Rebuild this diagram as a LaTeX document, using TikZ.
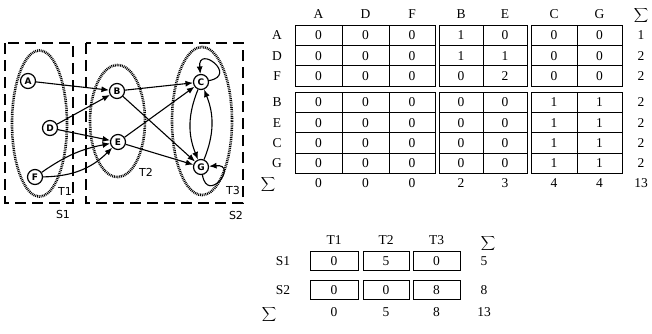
\documentclass[tikz,border=0pt]{standalone}
\usepackage{fontspec}
\setmainfont{Liberation Serif}
\newfontfamily\labfont{DejaVu Sans}
\usetikzlibrary{arrows.meta}
\begin{document}
\begin{tikzpicture}[x=1pt,y=-1pt,
  vtx/.style={circle,draw,line width=1.2pt,minimum size=15pt,inner sep=0pt,fill=white,font=\labfont\bfseries\fontsize{9}{9}\selectfont},
  arr/.style={-{Latex[length=7.5pt,width=6pt]},line width=1.1pt},
  sbox/.style={dash pattern=on 11pt off 6pt,line width=1.4pt},
  tset/.style={dash pattern=on 0.9pt off 0.9pt,line width=2.6pt},
  lab/.style={font=\labfont\fontsize{11}{11}\selectfont,inner sep=0pt},
  cell/.style={draw,line width=0.8pt},
  tx/.style={font=\fontsize{13.5}{14}\selectfont,inner sep=0pt},
  sig/.style={font=\fontsize{11.5}{11.5}\selectfont,inner sep=0pt},
]
\useasboundingbox (0,0) rectangle (652,333);
% ---------------- left graph ----------------
\draw[sbox] (5,43) rectangle (73,203);
\draw[sbox] (86,43) rectangle (243,203);
\draw[tset] (39.5,123.5) ellipse [x radius=27.5, y radius=73];
\draw[tset] (117.5,121) ellipse [x radius=27.5, y radius=56];
\draw[tset] (202,121) ellipse [x radius=30, y radius=74];
\node[vtx] (A) at (28,81) {A};
\node[vtx] (D) at (50,128) {D};
\node[vtx] (F) at (35,177) {F};
\node[vtx] (B) at (117,91) {B};
\node[vtx] (E) at (118,142) {E};
\node[vtx] (C) at (201,82) {C};
\node[vtx] (G) at (201,167) {G};
\node[lab] (T1) at (65,191) {T1};
\node[lab] (T2) at (146,172) {T2};
\node[lab] (T3) at (233,190) {T3};
\node[lab] (S1) at (63,214) {S1};
\node[lab] (S2) at (236,215) {S2};
\draw[arr] (A) -- (B);
\draw[arr] (D) -- (B);
\draw[arr] (D) -- (E);
\draw[arr] (F) to[bend left=12] (E);
\draw[arr] (F) to[bend right=22] (E);
\draw[arr] (B) -- (C);
\draw[arr] (B) -- (G);
\draw[arr] (E) -- (C);
\draw[arr] (E) -- (G);
\draw[arr] (C) to[bend right=22] (G);
\draw[arr] (G) to[bend right=22] (C);
\draw[arr] (C) to[out=10,in=95,looseness=7] (C);
\draw[arr] (G) to[out=-80,in=5,looseness=7] (G);
% ---------------- main table ----------------
\def\xl{{295,342,389,439,483,531,577}}
\def\xr{{342,389,435,483,527,577,622}}
\def\xc{{318.5,365.5,412,461,505,554,599.5}}
\foreach \h [count=\i] in {A,D,F,B,E,C,G}{
  \pgfmathsetmacro\cx{\xc[\i-1]}
  \node[tx] (h-\h) at (\cx,14) {\h};
}
\node[sig] (h-sum) at (641,15) {$\displaystyle\sum$};
\foreach \r/\yt/\vals/\s in {A/25/{0,0,0,1,0,0,0}/1, D/45.4/{0,0,0,1,1,0,0}/2, F/65.8/{0,0,0,0,2,0,0}/2,
                            B/92/{0,0,0,0,0,1,1}/2, E/112.4/{0,0,0,0,0,1,1}/2, C/132.8/{0,0,0,0,0,1,1}/2, G/153.2/{0,0,0,0,0,1,1}/2}{
  \pgfmathsetmacro\yb{\yt+20.4}
  \pgfmathsetmacro\ym{\yt+10.2}
  \node[tx] (r-\r) at (277,\ym) {\r};
  \foreach \v [count=\i] in \vals {
    \pgfmathsetmacro\xa{\xl[\i-1]}
    \pgfmathsetmacro\xb{\xr[\i-1]}
    \pgfmathsetmacro\cx{\xc[\i-1]}
    \draw[cell] (\xa,\yt) rectangle (\xb,\yb);
    \node[tx] (m-\r-\i) at (\cx,\ym) {\v};
  }
  \node[tx] (s-\r) at (641,\ym) {\s};
}
\node[sig] (r-sum) at (268,184.5) {$\displaystyle\sum$};
\foreach \v [count=\i] in {0,0,0,2,3,4,4}{
  \pgfmathsetmacro\cx{\xc[\i-1]}
  \node[tx] (t-\i) at (\cx,183.5) {\v};
}
\node[tx] (t-all) at (641,183.5) {13};
% ---------------- small table ----------------
\def\bl{{310,363,413}}
\def\br{{358,409,460}}
\def\bc{{334,386,436.5}}
\foreach \h [count=\i] in {T1,T2,T3}{
  \pgfmathsetmacro\cx{\bc[\i-1]}
  \node[tx] (bh-\h) at (\cx,240) {\h};
}
\node[sig] (bh-sum) at (488,243) {$\displaystyle\sum$};
\foreach \r/\yt/\vals/\s in {S1/251.5/{0,5,0}/5, S2/280.5/{0,0,8}/8}{
  \pgfmathsetmacro\yb{\yt+18.5}
  \pgfmathsetmacro\ym{\yt+9.25}
  \node[tx] (br-\r) at (283,\ym) {\r};
  \foreach \v [count=\i] in \vals {
    \pgfmathsetmacro\xa{\bl[\i-1]}
    \pgfmathsetmacro\xb{\br[\i-1]}
    \pgfmathsetmacro\cx{\bc[\i-1]}
    \draw[cell] (\xa,\yt) rectangle (\xb,\yb);
    \node[tx] (b-\r-\i) at (\cx,\ym) {\v};
  }
  \node[tx] (bs-\r) at (484,\ym) {\s};
}
\node[sig] (br-sum) at (269,314) {$\displaystyle\sum$};
\foreach \v [count=\i] in {0,5,8}{
  \pgfmathsetmacro\cx{\bc[\i-1]}
  \node[tx] (bt-\i) at (\cx,312) {\v};
}
\node[tx] (bt-all) at (484,312) {13};
\end{tikzpicture}
\end{document}
